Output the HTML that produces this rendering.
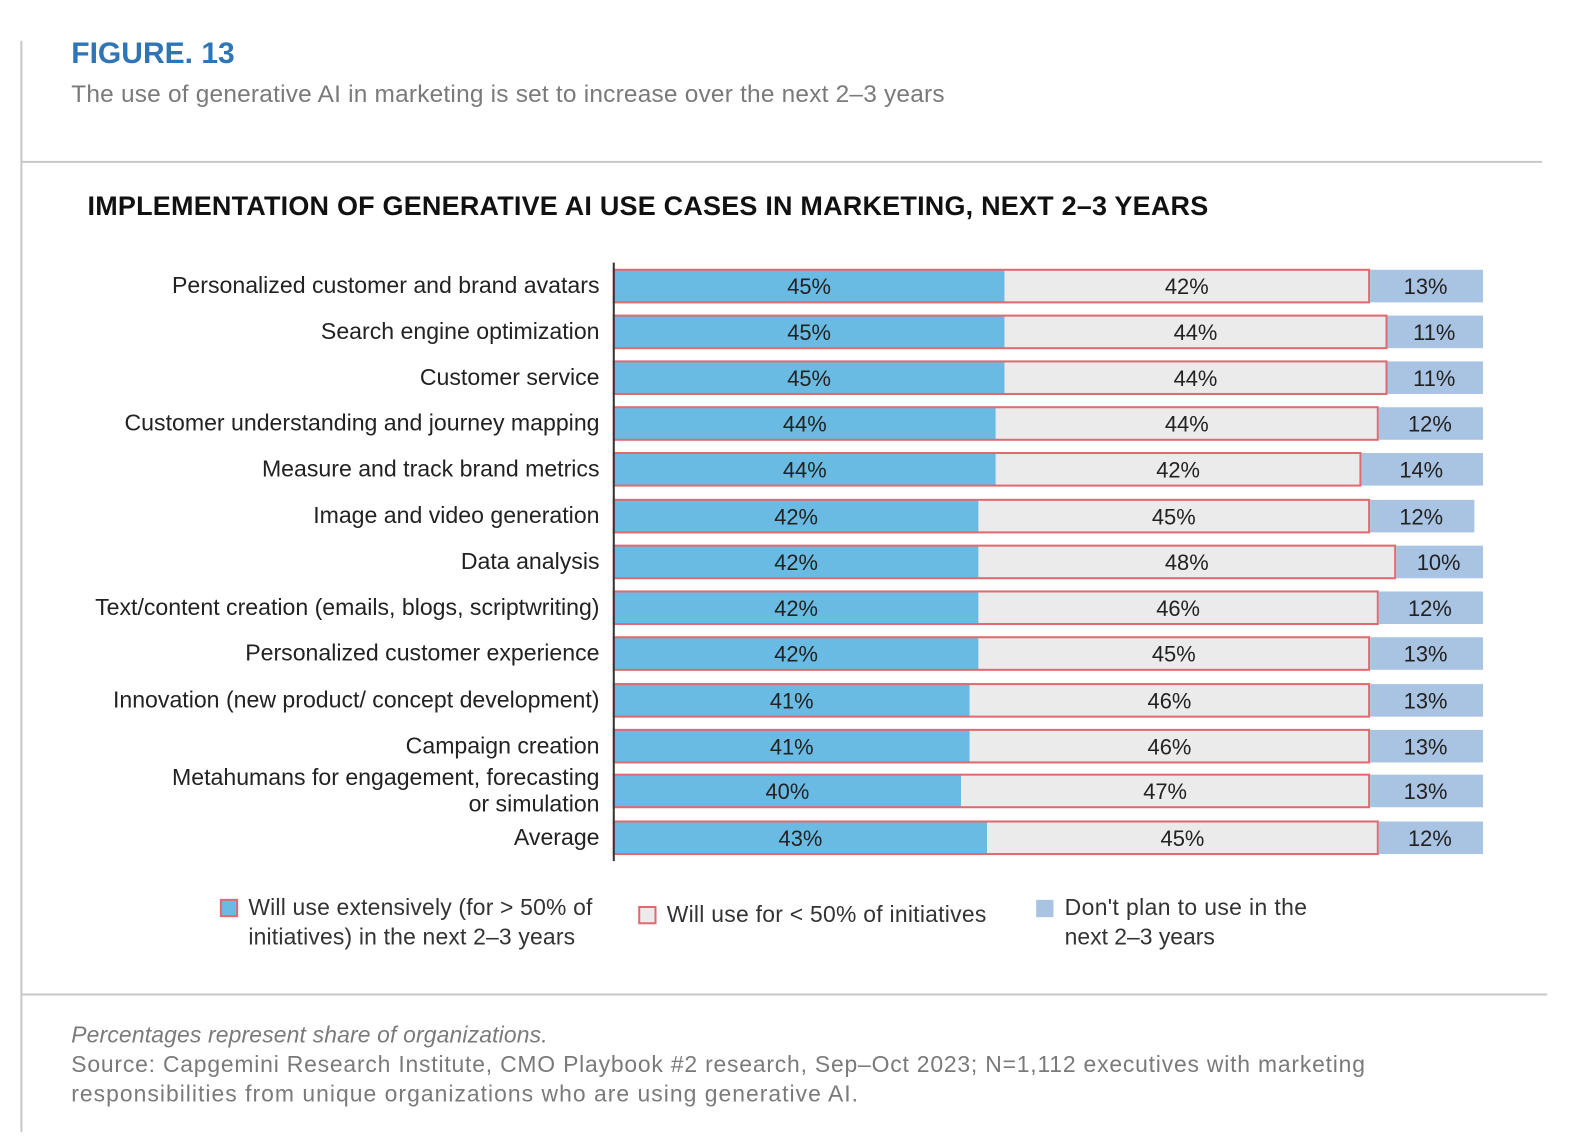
<!DOCTYPE html>
<html><head><meta charset="utf-8"><style>
html,body{margin:0;padding:0;background:#fff;}
body{width:1596px;height:1132px;position:relative;overflow:hidden;font-family:"Liberation Sans","DejaVu Sans",sans-serif;}
</style></head><body>
<svg id="chart" width="1596" height="1132" viewBox="0 0 1568 1112" xmlns="http://www.w3.org/2000/svg" font-family="Liberation Sans, DejaVu Sans, sans-serif">
<line x1="21" y1="40" x2="21" y2="1112" stroke="#c8c8c8" stroke-width="2"/>
<line x1="21" y1="159" x2="1515" y2="159" stroke="#c8c8c8" stroke-width="2"/>
<line x1="21" y1="977" x2="1520" y2="977" stroke="#c8c8c8" stroke-width="2"/>
<text x="70" y="62" font-size="29.5" font-weight="bold" fill="#2f74b5">FIGURE. 13</text>
<text x="70" y="100" font-size="24" fill="#7a7a7a" textLength="858" lengthAdjust="spacing">The use of generative AI in marketing is set to increase over the next 2–3 years</text>
<text x="86" y="211" font-size="26.5" font-weight="bold" fill="#111" textLength="1101" lengthAdjust="spacing">IMPLEMENTATION OF GENERATIVE AI USE CASES IN MARKETING, NEXT 2–3 YEARS</text>
<g id="bars"></g>
<line x1="603" y1="258" x2="603" y2="846" stroke="#333" stroke-width="2"/>
<g>
<rect x="217" y="884" width="16" height="16" fill="#6abbe3" stroke="#e06a70" stroke-width="2"/>
<text x="244" y="899" font-size="22.5" fill="#333" textLength="338" lengthAdjust="spacing">Will use extensively (for &gt; 50% of</text>
<text x="244" y="928" font-size="22.5" fill="#333" textLength="321" lengthAdjust="spacing">initiatives) in the next 2–3 years</text>
<rect x="628" y="891" width="16" height="16" fill="#ebebeb" stroke="#e06a70" stroke-width="2"/>
<text x="655" y="906" font-size="22.5" fill="#333" textLength="314" lengthAdjust="spacing">Will use for &lt; 50% of initiatives</text>
<rect x="1018" y="884" width="17" height="17" fill="#a9c3e2"/>
<text x="1046" y="899" font-size="22.5" fill="#333" textLength="238" lengthAdjust="spacing">Don't plan to use in the</text>
<text x="1046" y="928" font-size="22.5" fill="#333">next 2–3 years</text>
</g>
<text x="70" y="1024" font-size="22.5" font-style="italic" fill="#7a7a7a" textLength="468" lengthAdjust="spacing">Percentages represent share of organizations.</text>
<text x="70" y="1053" font-size="22.5" fill="#7a7a7a" textLength="1271" lengthAdjust="spacing">Source: Capgemini Research Institute, CMO Playbook #2 research, Sep–Oct 2023; N=1,112 executives with marketing</text>
<text x="70" y="1082" font-size="22.5" fill="#7a7a7a" textLength="773" lengthAdjust="spacing">responsibilities from unique organizations who are using generative AI.</text>
</svg>
<script>
const categories = ["Personalized customer and brand avatars","Search engine optimization","Customer service","Customer understanding and journey mapping","Measure and track brand metrics","Image and video generation","Data analysis","Text/content creation (emails, blogs, scriptwriting)","Personalized customer experience","Innovation (new product/ concept development)","Campaign creation","Metahumans for engagement, forecasting|or simulation","Average"];
const extensive = [45,45,45,44,44,42,42,42,42,41,41,40,43];
const partial = [42,44,44,44,42,45,48,46,45,46,46,47,45];
const none = [13,11,11,12,14,12,10,12,13,13,13,13,12];
const rowCenters = [281,326,371,416,461,507,552,597,642,688,733,777,823];
const NS="http://www.w3.org/2000/svg";
const x0=603, pxPer=8.53, bh=32;
const xs = v => x0 + v*pxPer;
const g=document.getElementById('bars');
function mk(tag,attrs){const e=document.createElementNS(NS,tag);for(const k in attrs)e.setAttribute(k,attrs[k]);return e;}
categories.forEach((c,i)=>{
  const cy=rowCenters[i], y=cy-bh/2;
  const a=extensive[i], b=partial[i], n=none[i];
  const r1=mk('rect',{x:xs(0),y:y,width:a*pxPer,height:bh,fill:'#6abbe3'});
  
  
  g.appendChild(r1);
  const r2=mk('rect',{x:xs(a),y:y,width:b*pxPer,height:bh,fill:'#ebebeb'});
  
  
  g.appendChild(r2);
  const ob=mk('rect',{x:xs(0),y:y,width:(a+b)*pxPer,height:bh,fill:'none',stroke:'#e06a70','stroke-width':2});
  
  
  g.appendChild(ob);
  const r3=mk('rect',{x:xs(a+b)+1,y:y,width:n*pxPer,height:bh,fill:'#a9c3e2'});
  
  
  g.appendChild(r3);
  [[a,0],[b,a],[n,a+b]].forEach(([v,s])=>{
    const t=mk('text',{x:xs(s+v/2),y:cy+8,'font-size':21.5,'text-anchor':'middle',fill:'#222'});
    t.textContent=v+'%';
    
    
    g.appendChild(t);
  });
  const parts=c.split('|');
  parts.forEach((p,j)=>{
    const dy = parts.length>1 ? (j===0?-6:20) : 7;
    const t=mk('text',{x:589,y:cy+dy,'font-size':22.7,'text-anchor':'end',fill:'#222'});
    t.textContent=p;
    
    
    g.appendChild(t);
  });
});
</script>
</body></html>
